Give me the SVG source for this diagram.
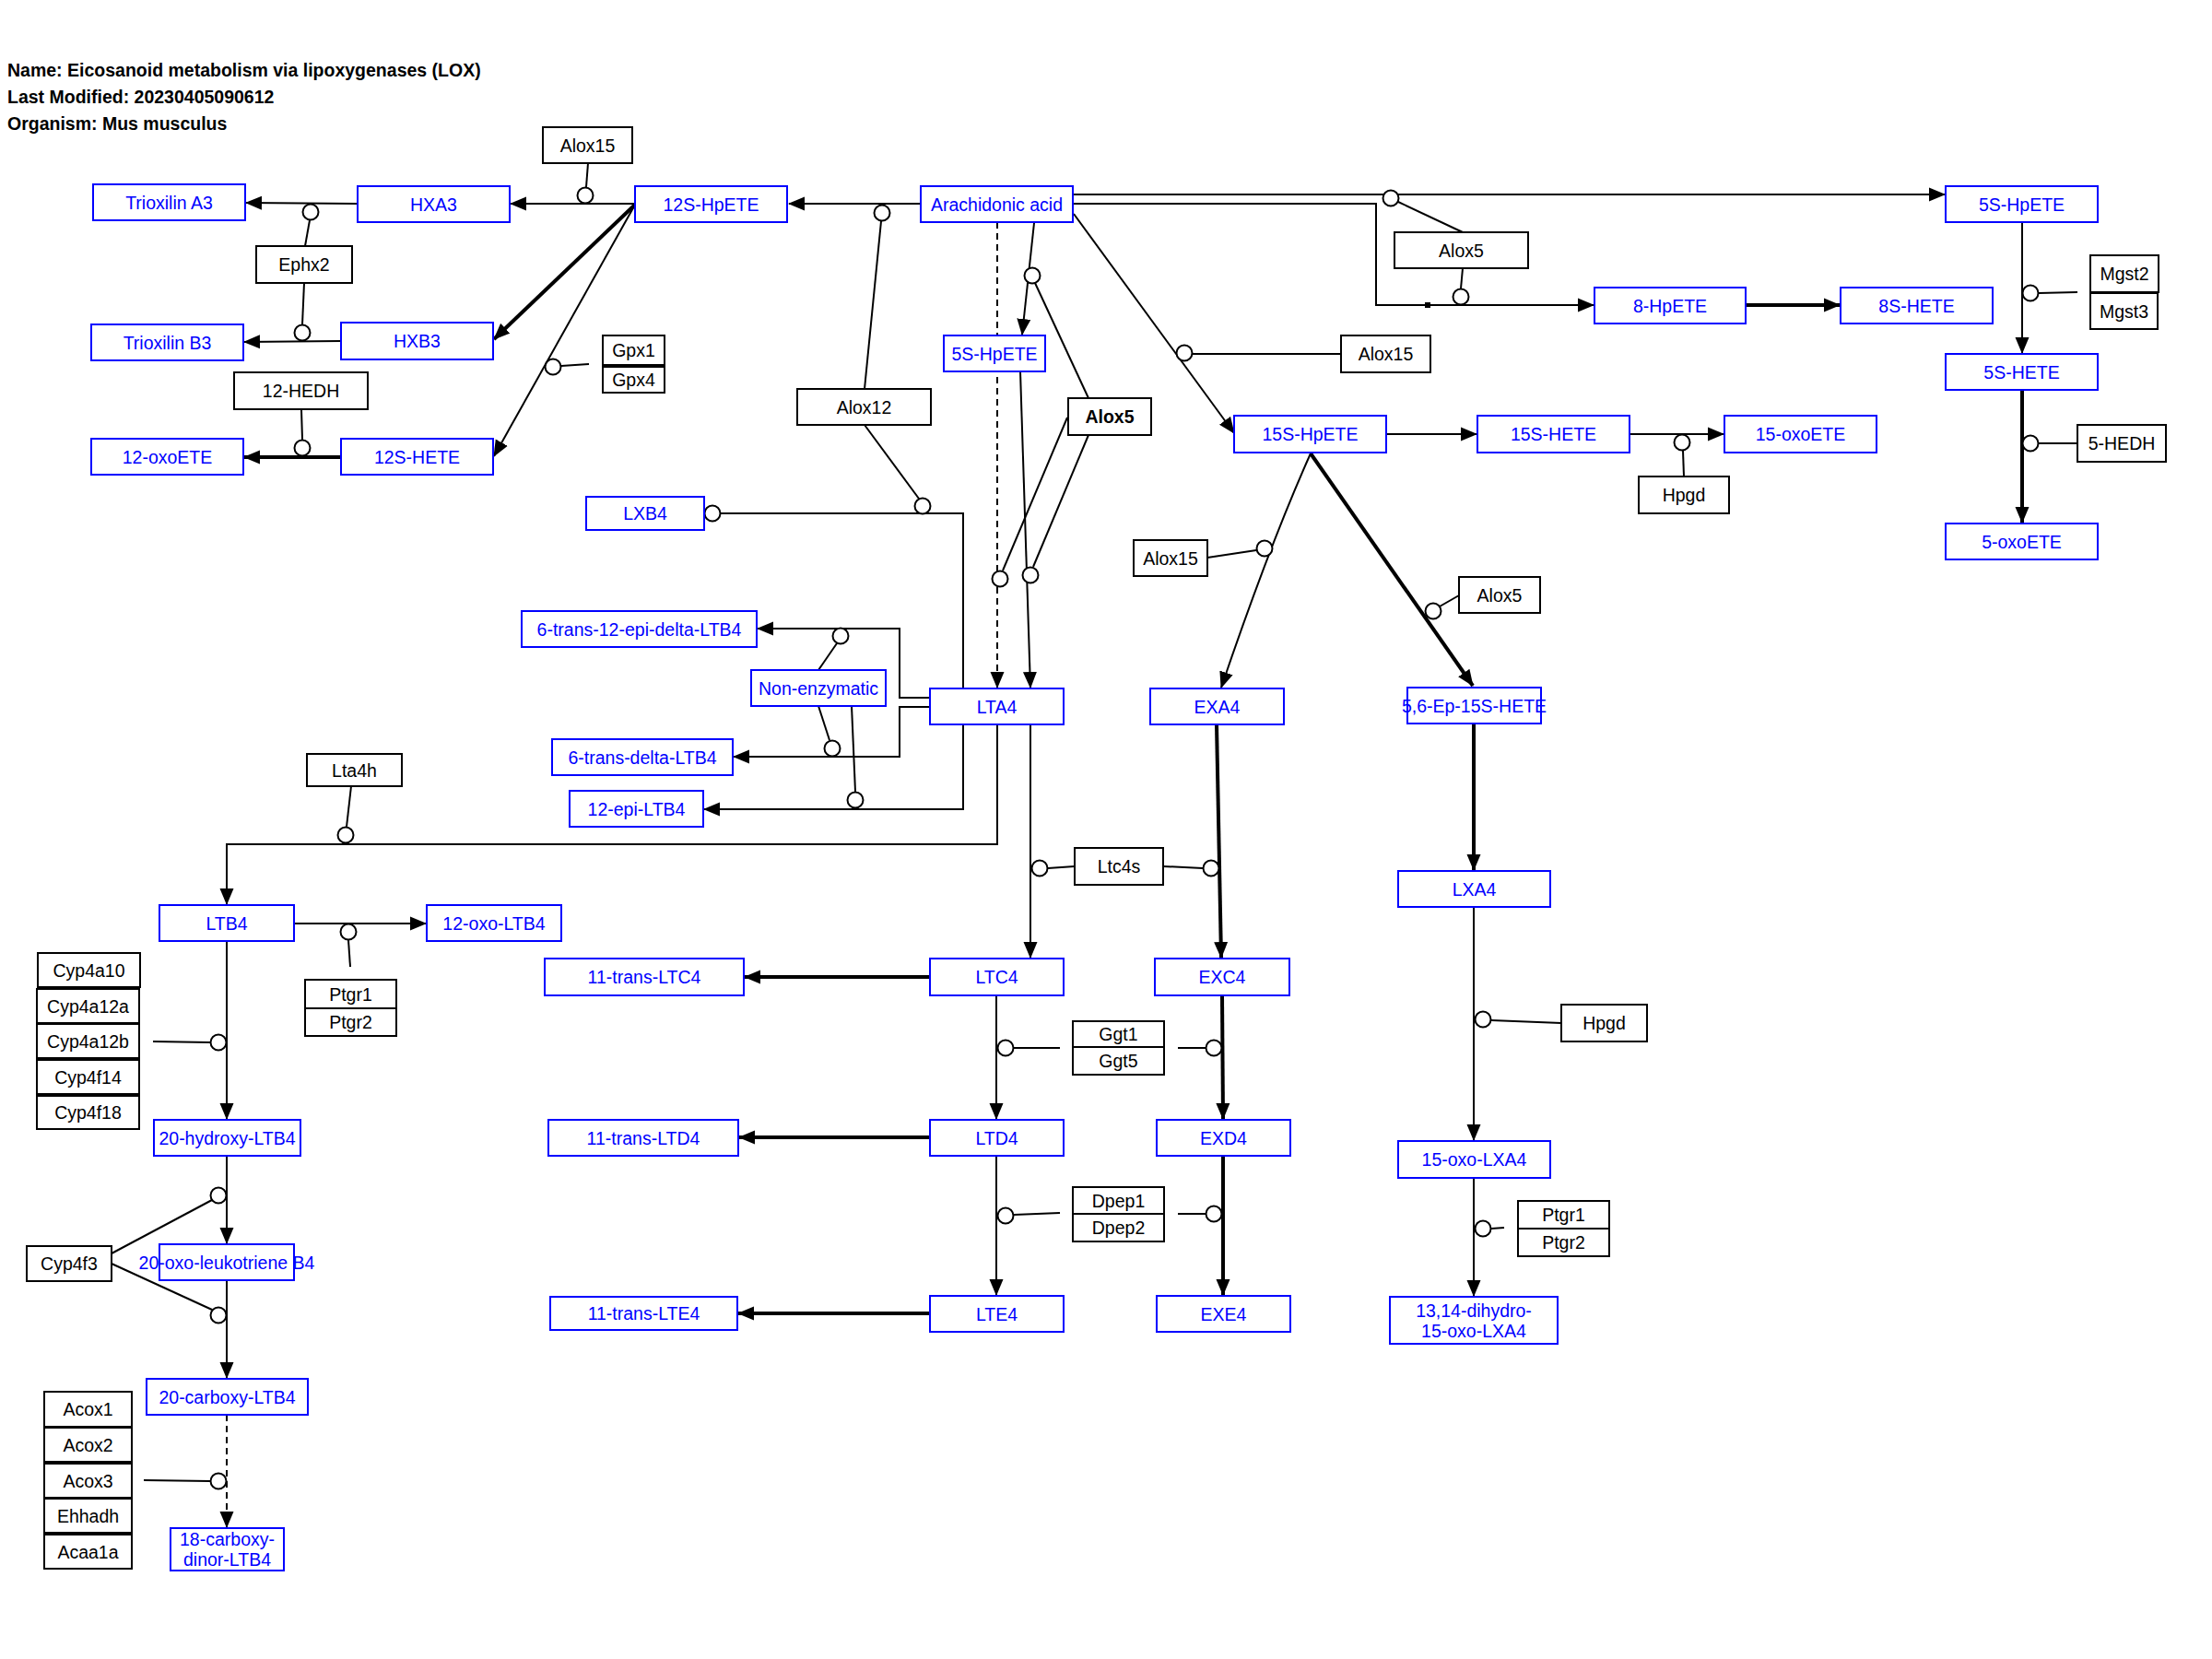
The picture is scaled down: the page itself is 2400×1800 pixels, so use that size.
<svg xmlns="http://www.w3.org/2000/svg" width="2400" height="1800" viewBox="0 0 2400 1800">
<style>
text{font-family:"Liberation Sans",Arial,sans-serif;font-size:19.5px;text-anchor:middle}
.title{text-anchor:start;font-weight:bold;fill:#000}
.m rect{fill:#fff;stroke:#0000ff;stroke-width:2}
.m text{fill:#0000ff}
.g rect{fill:#fff;stroke:#000;stroke-width:2}
.g text{fill:#000}
.ln{fill:none;stroke:#000;stroke-width:2}
.ar{marker-end:url(#arr)}
.tk{stroke-width:4}
.ds{stroke-dasharray:7 5}
.c{fill:#fff;stroke:#000;stroke-width:2}
</style>
<defs>
<marker id="arr" markerUnits="userSpaceOnUse" markerWidth="18" markerHeight="16" refX="17" refY="7.5" orient="auto" viewBox="0 0 18 15">
<path d="M0,0 L18,7.5 L0,15 z" fill="#000"/>
</marker>
</defs>
<rect width="2400" height="1800" fill="#fff"/>
<text class="title" x="8" y="83">Name: Eicosanoid metabolism via lipoxygenases (LOX)</text>
<text class="title" x="8" y="112">Last Modified: 20230405090612</text>
<text class="title" x="8" y="141">Organism: Mus musculus</text>

<g id="connectors">
<path class="ln ar" d="M689,221 L554,221"/>
<path class="ln ar" d="M388,221 L267,220"/>
<path class="ln ar" d="M370,370 L265,371"/>
<path class="ln ar tk" d="M689,222 L536,368"/>
<path class="ln ar" d="M689,222 L536,495"/>
<path class="ln ar tk" d="M370,496 L265,496"/>
<path class="ln ar" d="M999,221 L856,221"/>
<path class="ln ar" d="M1164,211 L2110,211"/>
<path class="ln ar" d="M1164,221 L1493,221 L1493,331 L1729,331"/>
<path class="ln ar tk" d="M1894,331 L1996,331"/>
<path class="ln ar" d="M2194,241 L2194,383"/>
<path class="ln ar tk" d="M2194,423 L2194,567"/>
<path class="ln ar" d="M1122,242 L1109,363"/>
<path class="ln ar ds" d="M1082,241 L1082,746"/>
<path class="ln ar" d="M1107,403 L1118,746"/>
<path class="ln ar" d="M1165,232 L1339,470"/>
<path class="ln ar" d="M1504,471 L1602,471"/>
<path class="ln ar" d="M1768,471 L1870,471"/>
<path class="ln ar" d="M1422,492 Q1378,590 1325,746"/>
<path class="ln ar tk" d="M1422,492 L1598,744"/>
<path class="ln ar tk" d="M1599,785 L1599,944"/>
<path class="ln ar" d="M1599,984 L1599,1237"/>
<path class="ln ar" d="M1599,1278 L1599,1406"/>
<path class="ln" d="M1045,747 L1045,557 L782,557"/>
<circle class="c" cx="773" cy="557" r="8.5"/>
<path class="ln ar" d="M1009,757 L976,757 L976,682 L822,682"/>
<path class="ln ar" d="M1009,767 L976,767 L976,821 L796,821"/>
<path class="ln ar" d="M1045,786 L1045,878 L764,878"/>
<path class="ln ar" d="M1082,786 L1082,916 L246,916 L246,981"/>
<path class="ln ar" d="M1118,786 L1118,1039"/>
<path class="ln ar tk" d="M1320,786 L1325,1039"/>
<path class="ln ar tk" d="M1009,1060 L808,1060"/>
<path class="ln ar" d="M1081,1080 L1081,1214"/>
<path class="ln ar tk" d="M1326,1080 L1327,1214"/>
<path class="ln ar tk" d="M1009,1234 L802,1234"/>
<path class="ln ar" d="M1081,1254 L1081,1405"/>
<path class="ln ar tk" d="M1327,1254 L1327,1405"/>
<path class="ln ar tk" d="M1009,1425 L801,1425"/>
<path class="ln ar" d="M319,1002 L462,1002"/>
<path class="ln ar" d="M246,1021 L246,1214"/>
<path class="ln ar" d="M246,1254 L246,1349"/>
<path class="ln ar" d="M246,1389 L246,1495"/>
<path class="ln ar ds" d="M246,1535 L246,1657"/>

<path class="ln" d="M638,177 L636,203"/><circle class="c" cx="635" cy="212" r="8.5"/>
<path class="ln" d="M331,267 L336,239"/><circle class="c" cx="337" cy="230" r="8.5"/>
<path class="ln" d="M330,307 L328,352"/><circle class="c" cx="328" cy="361" r="8.5"/>
<path class="ln" d="M639,395 L609,397"/><circle class="c" cx="600" cy="398" r="8.5"/>
<path class="ln" d="M327,444 L328,477"/><circle class="c" cx="328" cy="486" r="8.5"/>
<path class="ln" d="M938,422 L956,240"/><circle class="c" cx="957" cy="231" r="8.5"/>
<path class="ln" d="M938,461 L997,541"/><circle class="c" cx="1001" cy="549" r="8.5"/>
<path class="ln" d="M1181,432 L1123,307"/><circle class="c" cx="1120" cy="299" r="8.5"/>
<path class="ln" d="M1158,453 L1088,619"/><circle class="c" cx="1085" cy="628" r="8.5"/>
<path class="ln" d="M1181,472 L1121,615"/><circle class="c" cx="1118" cy="624" r="8.5"/>
<path class="ln" d="M1587,252 L1517,219"/><circle class="c" cx="1509" cy="215" r="8.5"/>
<path class="ln" d="M1587,291 L1585,313"/><circle class="c" cx="1585" cy="322" r="8.5"/>
<rect x="1546" y="328" width="6" height="6" fill="#000"/>
<path class="ln" d="M2254,317 L2212,318"/><circle class="c" cx="2203" cy="318" r="8.5"/>
<path class="ln" d="M2254,481 L2212,481"/><circle class="c" cx="2203" cy="481" r="8.5"/>
<path class="ln" d="M1455,384 L1294,384"/><circle class="c" cx="1285" cy="383" r="8.5"/>
<path class="ln" d="M1827,517 L1826,489"/><circle class="c" cx="1825" cy="480" r="8.5"/>
<path class="ln" d="M1310,605 L1363,597"/><circle class="c" cx="1372" cy="595" r="8.5"/>
<path class="ln" d="M1583,646 L1562,658"/><circle class="c" cx="1555" cy="663" r="8.5"/>
<path class="ln" d="M888,727 L908,698"/><circle class="c" cx="912" cy="690" r="8.5"/>
<path class="ln" d="M888,766 L900,803"/><circle class="c" cx="903" cy="812" r="8.5"/>
<path class="ln" d="M924,766 L928,859"/><circle class="c" cx="928" cy="868" r="8.5"/>
<path class="ln" d="M381,853 L376,897"/><circle class="c" cx="375" cy="906" r="8.5"/>
<path class="ln" d="M1166,940 L1137,942"/><circle class="c" cx="1128" cy="942" r="8.5"/>
<path class="ln" d="M1262,940 L1305,942"/><circle class="c" cx="1314" cy="942" r="8.5"/>
<path class="ln" d="M1150,1137 L1100,1137"/><circle class="c" cx="1091" cy="1137" r="8.5"/>
<path class="ln" d="M1278,1137 L1308,1137"/><circle class="c" cx="1317" cy="1137" r="8.5"/>
<path class="ln" d="M1150,1316 L1100,1318"/><circle class="c" cx="1091" cy="1319" r="8.5"/>
<path class="ln" d="M1278,1317 L1308,1317"/><circle class="c" cx="1317" cy="1317" r="8.5"/>
<path class="ln" d="M1694,1110 L1618,1107"/><circle class="c" cx="1609" cy="1106" r="8.5"/>
<path class="ln" d="M1632,1332 L1618,1333"/><circle class="c" cx="1609" cy="1333" r="8.5"/>
<path class="ln" d="M380,1049 L378,1020"/><circle class="c" cx="378" cy="1011" r="8.5"/>
<path class="ln" d="M166,1130 L228,1131"/><circle class="c" cx="237" cy="1131" r="8.5"/>
<path class="ln" d="M121,1360 L230,1302"/><circle class="c" cx="237" cy="1297" r="8.5"/>
<path class="ln" d="M121,1371 L230,1421"/><circle class="c" cx="237" cy="1427" r="8.5"/>
<path class="ln" d="M156,1606 L228,1607"/><circle class="c" cx="237" cy="1607" r="8.5"/>
</g>

<g id="n-trioxilinA3" class="m"><rect x="101" y="200" width="165" height="39"/><text x="183.5" y="226.5">Trioxilin A3</text></g>
<g id="n-hxa3" class="m"><rect x="388" y="202" width="165" height="39"/><text x="470.5" y="228.5">HXA3</text></g>
<g id="n-12shpete" class="m"><rect x="689" y="202" width="165" height="39"/><text x="771.5" y="228.5">12S-HpETE</text></g>
<g id="n-aa" class="m"><rect x="999" y="202" width="165" height="39"/><text x="1081.5" y="228.5">Arachidonic acid</text></g>
<g id="n-5shpete-r" class="m"><rect x="2111" y="202" width="165" height="39"/><text x="2193.5" y="228.5">5S-HpETE</text></g>
<g id="n-trioxilinB3" class="m"><rect x="99" y="352" width="165" height="39"/><text x="181.5" y="378.5">Trioxilin B3</text></g>
<g id="n-hxb3" class="m"><rect x="370" y="350" width="165" height="40"/><text x="452.5" y="377">HXB3</text></g>
<g id="n-12oxoete" class="m"><rect x="99" y="476" width="165" height="39"/><text x="181.5" y="502.5">12-oxoETE</text></g>
<g id="n-12shete" class="m"><rect x="370" y="476" width="165" height="39"/><text x="452.5" y="502.5">12S-HETE</text></g>
<g id="n-5shpete-m" class="m"><rect x="1024" y="364" width="110" height="39"/><text x="1079" y="390.5">5S-HpETE</text></g>
<g id="n-8hpete" class="m"><rect x="1730" y="312" width="164" height="39"/><text x="1812" y="338.5">8-HpETE</text></g>
<g id="n-8shete" class="m"><rect x="1997" y="312" width="165" height="39"/><text x="2079.5" y="338.5">8S-HETE</text></g>
<g id="n-5shete" class="m"><rect x="2111" y="384" width="165" height="39"/><text x="2193.5" y="410.5">5S-HETE</text></g>
<g id="n-15shpete" class="m"><rect x="1339" y="451" width="165" height="40"/><text x="1421.5" y="478">15S-HpETE</text></g>
<g id="n-15shete" class="m"><rect x="1603" y="451" width="165" height="40"/><text x="1685.5" y="478">15S-HETE</text></g>
<g id="n-15oxoete" class="m"><rect x="1871" y="451" width="165" height="40"/><text x="1953.5" y="478">15-oxoETE</text></g>
<g id="n-5oxoete" class="m"><rect x="2111" y="568" width="165" height="39"/><text x="2193.5" y="594.5">5-oxoETE</text></g>
<g id="n-lxb4" class="m"><rect x="636" y="539" width="128" height="36"/><text x="700" y="564">LXB4</text></g>
<g id="n-6t12epi" class="m"><rect x="566" y="663" width="255" height="39"/><text x="693.5" y="689.5">6-trans-12-epi-delta-LTB4</text></g>
<g id="n-nonenz" class="m"><rect x="815" y="727" width="146" height="39"/><text x="888" y="753.5">Non-enzymatic</text></g>
<g id="n-lta4" class="m"><rect x="1009" y="747" width="145" height="39"/><text x="1081.5" y="773.5">LTA4</text></g>
<g id="n-exa4" class="m"><rect x="1248" y="747" width="145" height="39"/><text x="1320.5" y="773.5">EXA4</text></g>
<g id="n-56ep" class="m"><rect x="1527" y="746" width="145" height="39"/><text x="1599.5" y="772.5">5,6-Ep-15S-HETE</text></g>
<g id="n-6tdelta" class="m"><rect x="599" y="802" width="196" height="39"/><text x="697" y="828.5">6-trans-delta-LTB4</text></g>
<g id="n-12epi" class="m"><rect x="618" y="858" width="145" height="39"/><text x="690.5" y="884.5">12-epi-LTB4</text></g>
<g id="n-lxa4" class="m"><rect x="1517" y="945" width="165" height="39"/><text x="1599.5" y="971.5">LXA4</text></g>
<g id="n-ltb4" class="m"><rect x="173" y="982" width="146" height="39"/><text x="246" y="1008.5">LTB4</text></g>
<g id="n-12oxoltb4" class="m"><rect x="463" y="982" width="146" height="39"/><text x="536" y="1008.5">12-oxo-LTB4</text></g>
<g id="n-11tltc4" class="m"><rect x="591" y="1040" width="216" height="40"/><text x="699" y="1067">11-trans-LTC4</text></g>
<g id="n-ltc4" class="m"><rect x="1009" y="1040" width="145" height="40"/><text x="1081.5" y="1067">LTC4</text></g>
<g id="n-exc4" class="m"><rect x="1253" y="1040" width="146" height="40"/><text x="1326" y="1067">EXC4</text></g>
<g id="n-20hltb4" class="m"><rect x="167" y="1215" width="159" height="39"/><text x="246.5" y="1241.5">20-hydroxy-LTB4</text></g>
<g id="n-11tltd4" class="m"><rect x="595" y="1215" width="206" height="39"/><text x="698" y="1241.5">11-trans-LTD4</text></g>
<g id="n-ltd4" class="m"><rect x="1009" y="1215" width="145" height="39"/><text x="1081.5" y="1241.5">LTD4</text></g>
<g id="n-exd4" class="m"><rect x="1255" y="1215" width="145" height="39"/><text x="1327.5" y="1241.5">EXD4</text></g>
<g id="n-15oxolxa4" class="m"><rect x="1517" y="1238" width="165" height="40"/><text x="1599.5" y="1265">15-oxo-LXA4</text></g>
<g id="n-20oxo" class="m"><rect x="173" y="1350" width="146" height="39"/><text x="246" y="1376.5">20-oxo-leukotriene B4</text></g>
<g id="n-11tlte4" class="m"><rect x="597" y="1407" width="203" height="36"/><text x="698.5" y="1432">11-trans-LTE4</text></g>
<g id="n-lte4" class="m"><rect x="1009" y="1406" width="145" height="39"/><text x="1081.5" y="1432.5">LTE4</text></g>
<g id="n-exe4" class="m"><rect x="1255" y="1406" width="145" height="39"/><text x="1327.5" y="1432.5">EXE4</text></g>
<g id="n-1314" class="m"><rect x="1508" y="1407" width="182" height="51"/><text x="1599" y="1428.5">13,14-dihydro-</text><text x="1599" y="1450.5">15-oxo-LXA4</text></g>
<g id="n-20carb" class="m"><rect x="159" y="1496" width="175" height="39"/><text x="246.5" y="1522.5">20-carboxy-LTB4</text></g>
<g id="n-18carb" class="m"><rect x="185" y="1658" width="123" height="46"/><text x="246.5" y="1677">18-carboxy-</text><text x="246.5" y="1699">dinor-LTB4</text></g>

<g id="g-alox15a" class="g"><rect x="589" y="138" width="97" height="39"/><text x="637.5" y="164.5">Alox15</text></g>
<g id="g-ephx2" class="g"><rect x="278" y="267" width="104" height="40"/><text x="330" y="294">Ephx2</text></g>
<g id="g-gpx" class="g"><rect x="654" y="364" width="67" height="32"/><text x="687.5" y="387">Gpx1</text><rect x="654" y="398" width="67" height="28"/><text x="687.5" y="419">Gpx4</text></g>
<g id="g-12hedh" class="g"><rect x="254" y="404" width="145" height="40"/><text x="326.5" y="431">12-HEDH</text></g>
<g id="g-alox12" class="g"><rect x="865" y="422" width="145" height="39"/><text x="937.5" y="448.5">Alox12</text></g>
<g id="g-alox5a" class="g"><rect x="1159" y="432" width="90" height="40"/><text x="1204" y="459" font-weight="bold">Alox5</text></g>
<g id="g-alox5b" class="g"><rect x="1513" y="252" width="145" height="39"/><text x="1585.5" y="278.5">Alox5</text></g>
<g id="g-alox15b" class="g"><rect x="1455" y="364" width="97" height="40"/><text x="1503.5" y="391">Alox15</text></g>
<g id="g-mgst" class="g"><rect x="2268" y="277" width="74" height="40"/><text x="2305" y="304">Mgst2</text><rect x="2268" y="318" width="73" height="39"/><text x="2304.5" y="344.5">Mgst3</text></g>
<g id="g-5hedh" class="g"><rect x="2254" y="461" width="96" height="40"/><text x="2302" y="488">5-HEDH</text></g>
<g id="g-hpgda" class="g"><rect x="1778" y="517" width="98" height="40"/><text x="1827" y="544">Hpgd</text></g>
<g id="g-alox15c" class="g"><rect x="1230" y="586" width="80" height="39"/><text x="1270" y="612.5">Alox15</text></g>
<g id="g-alox5c" class="g"><rect x="1583" y="626" width="88" height="39"/><text x="1627" y="652.5">Alox5</text></g>
<g id="g-lta4h" class="g"><rect x="333" y="818" width="103" height="35"/><text x="384.5" y="842.5">Lta4h</text></g>
<g id="g-ltc4s" class="g"><rect x="1166" y="920" width="96" height="40"/><text x="1214" y="947">Ltc4s</text></g>
<g id="g-cyp4a" class="g">
<rect x="41" y="1034" width="111" height="37"/><text x="96.5" y="1059.5">Cyp4a10</text>
<rect x="40" y="1073" width="111" height="37"/><text x="95.5" y="1098.5">Cyp4a12a</text>
<rect x="40" y="1111" width="111" height="37"/><text x="95.5" y="1136.5">Cyp4a12b</text>
<rect x="40" y="1150" width="111" height="37"/><text x="95.5" y="1175.5">Cyp4f14</text>
<rect x="40" y="1189" width="111" height="36"/><text x="95.5" y="1214">Cyp4f18</text>
</g>
<g id="g-ptgrL" class="g"><rect x="331" y="1063" width="99" height="31"/><text x="380.5" y="1085.5">Ptgr1</text><rect x="331" y="1094" width="99" height="30"/><text x="380.5" y="1116">Ptgr2</text></g>
<g id="g-ggt" class="g"><rect x="1164" y="1108" width="99" height="28"/><text x="1213.5" y="1129">Ggt1</text><rect x="1164" y="1136" width="99" height="30"/><text x="1213.5" y="1158">Ggt5</text></g>
<g id="g-hpgdb" class="g"><rect x="1694" y="1090" width="93" height="40"/><text x="1740.5" y="1117">Hpgd</text></g>
<g id="g-dpep" class="g"><rect x="1164" y="1288" width="99" height="29"/><text x="1213.5" y="1309.5">Dpep1</text><rect x="1164" y="1317" width="99" height="30"/><text x="1213.5" y="1339">Dpep2</text></g>
<g id="g-ptgrR" class="g"><rect x="1647" y="1303" width="99" height="30"/><text x="1696.5" y="1325">Ptgr1</text><rect x="1647" y="1333" width="99" height="30"/><text x="1696.5" y="1355">Ptgr2</text></g>
<g id="g-cyp4f3" class="g"><rect x="29" y="1352" width="92" height="38"/><text x="75" y="1378">Cyp4f3</text></g>
<g id="g-acox" class="g">
<rect x="48" y="1510" width="95" height="38"/><text x="95.5" y="1536">Acox1</text>
<rect x="48" y="1549" width="95" height="37"/><text x="95.5" y="1574.5">Acox2</text>
<rect x="48" y="1588" width="95" height="37"/><text x="95.5" y="1613.5">Acox3</text>
<rect x="48" y="1626" width="95" height="37"/><text x="95.5" y="1651.5">Ehhadh</text>
<rect x="48" y="1665" width="95" height="37"/><text x="95.5" y="1690.5">Acaa1a</text>
</g>
</svg>
